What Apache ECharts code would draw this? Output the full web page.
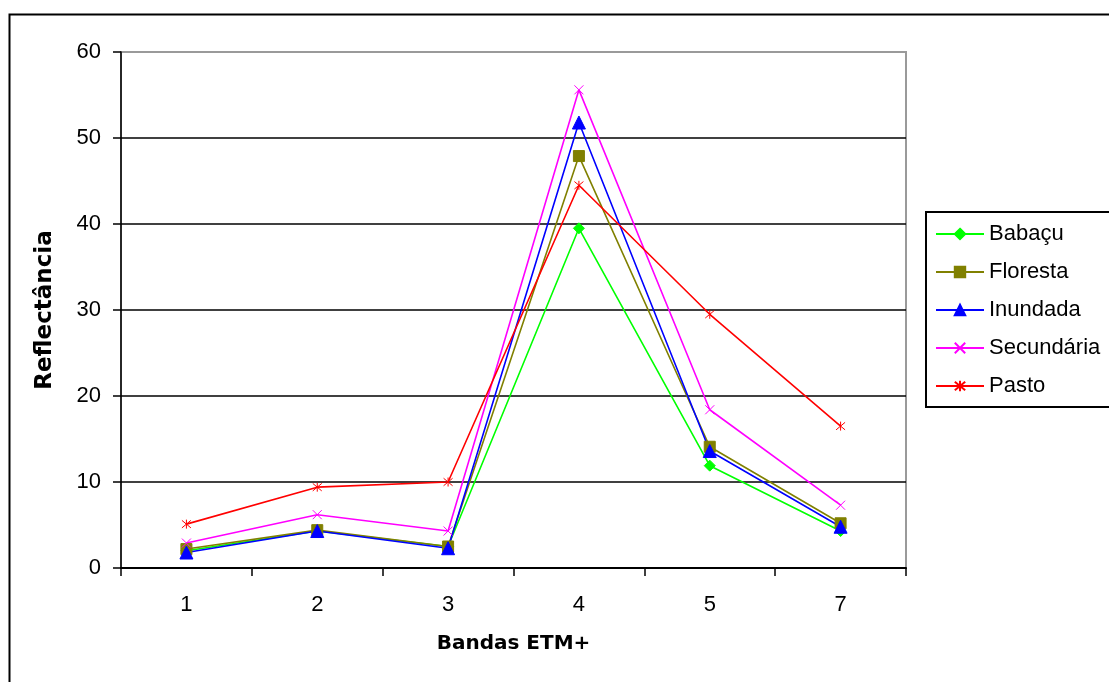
<!DOCTYPE html>
<html>
<head>
<meta charset="utf-8">
<script src="https://cdn.jsdelivr.net/npm/echarts@6/dist/echarts.min.js"></script>
<style>
  html, body { margin: 0; padding: 0; background: #fff; }
  #chart { width: 1109px; height: 682px; }
</style>
</head>
<body>
<div id="chart"></div>
<script>
// Landsat ETM+ band reflectance per land-cover class
const bands = ['1', '2', '3', '4', '5', '7'];
const babacu     = [2.0, 4.3, 2.5, 39.5, 11.9, 4.3];
const floresta   = [2.2, 4.4, 2.5, 47.9, 14.1, 5.2];
const inundada   = [1.8, 4.3, 2.3, 51.8, 13.6, 4.8];
const secundaria = [2.9, 6.2, 4.3, 55.6, 18.4, 7.3];
const pasto      = [5.1, 9.4, 10.0, 44.5, 29.5, 16.5];
const yTicks = [0, 10, 20, 30, 40, 50, 60];

const crossPath = 'path://M0,0L10,10M10,0L0,10';
const starPath = 'path://M0,0L10,10M10,0L0,10M5,-1L5,11';

function line(name, data, color, symbol, size) {
  return {
    name: name,
    type: 'line',
    data: data,
    symbol: symbol,
    symbolSize: size,
    showSymbol: true,
    lineStyle: { color: color, width: 1.6 },
    itemStyle: { color: color, borderColor: color, borderWidth: 1 },
    emphasis: { disabled: true }
  };
}

const chart = echarts.init(document.getElementById('chart'), null, { renderer: 'canvas' });
chart.setOption({
  animation: false,
  backgroundColor: '#ffffff',
  graphic: [{
    type: 'rect',
    shape: { x: 9.5, y: 14.5, width: 1200, height: 800 },
    style: { fill: null, stroke: '#000', lineWidth: 2 },
    silent: true,
    z: -1
  }],
  grid: {
    left: 121, right: 203, top: 52, bottom: 114,
    show: true, borderColor: '#9a9a9a', borderWidth: 2, backgroundColor: 'transparent'
  },
  legend: {
    orient: 'vertical',
    left: 926, top: 212,
    padding: [10, 20, 9, 9],
    backgroundColor: '#fff',
    borderColor: '#000', borderWidth: 2,
    itemWidth: 48, itemHeight: 13, itemGap: 14,
    textStyle: { fontFamily: 'Liberation Sans', fontSize: 22, color: '#000', lineHeight: 24 },
    data: ['Babaçu', 'Floresta', 'Inundada', 'Secundária', 'Pasto']
  },
  xAxis: {
    type: 'category',
    data: bands,
    boundaryGap: true,
    name: 'Bandas ETM+',
    nameLocation: 'middle',
    nameGap: 66,
    nameTextStyle: { fontFamily: 'DejaVu Sans', fontWeight: 'bold', fontSize: 20, color: '#000' },
    axisLine: { lineStyle: { color: '#000', width: 2 } },
    axisTick: { show: true, length: 8, lineStyle: { color: '#000', width: 1.5 } },
    axisLabel: { fontFamily: 'Liberation Sans', fontSize: 22, color: '#000', margin: 26 },
    splitLine: { show: false }
  },
  yAxis: {
    type: 'value',
    min: 0, max: 60, interval: 10,
    name: 'Reflectância',
    nameLocation: 'middle',
    nameGap: 64,
    nameTextStyle: { fontFamily: 'DejaVu Sans', fontWeight: 'bold', fontSize: 23, color: '#000' },
    axisLine: { show: true, lineStyle: { color: '#000', width: 1.5 } },
    axisTick: { show: true, length: 8, lineStyle: { color: '#000', width: 1.5 } },
    axisLabel: {
      fontFamily: 'Liberation Sans', fontSize: 22, color: '#000', margin: 20,
      formatter: function (v) { return yTicks.indexOf(v) >= 0 ? String(v) : ''; }
    },
    splitLine: {
      show: true,
      lineStyle: { color: ['#000', '#000', '#000', '#000', '#000', '#000', '#9a9a9a'], width: 1.6 }
    }
  },
  series: [
    line('Babaçu', babacu, '#00ff00', 'diamond', 11),
    line('Floresta', floresta, '#808000', 'rect', 11),
    line('Inundada', inundada, '#0000ff', 'triangle', 13),
    line('Secundária', secundaria, '#ff00ff', crossPath, 9),
    line('Pasto', pasto, '#ff0000', starPath, 9)
  ]
});
</script>
</body>
</html>
